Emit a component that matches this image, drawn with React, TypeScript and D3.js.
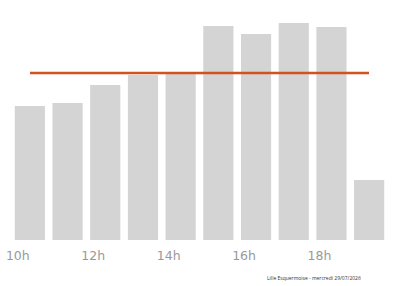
import React from "react";
import * as d3 from "d3";

const hours = [10, 11, 12, 13, 14, 15, 16, 17, 18, 19];
const values = [134, 137, 155, 165, 166, 214, 206, 217, 213, 60];
const average = 167;
const tickHours = [10, 12, 14, 16, 18];
const footer = "Lille Esquermoise - mercredi 29/07/2026";

export default function App() {
  const W = 400, H = 286;
  const x = d3.scaleBand<number>().domain(hours).range([11, 388]).paddingInner(0.2).paddingOuter(0.1);
  const y = d3.scaleLinear().domain([0, 240]).range([240, 0]);
  const lineX = d3.scaleLinear().domain([0, 1]).range([30, 369]);
  return (
    <svg width={W} height={H} style={{ position: "absolute", left: 0, top: 0, background: "#fff" }}>
      {hours.map((h, i) => (
        <rect key={h} x={x(h)} y={y(values[i])} width={x.bandwidth()} height={y(0) - y(values[i])} fill="#d4d4d4" />
      ))}
      <line x1={lineX(0)} x2={lineX(1)} y1={y(average)} y2={y(average)} stroke="#d1521f" strokeWidth={2.5} />
      {tickHours.map((h) => (
        <text key={h} x={(x(h) as number) + x.bandwidth() / 2 - 12} y={260} textAnchor="middle"
          fontFamily="'DejaVu Sans', sans-serif" fontSize={12.5} fill="#999">{h}h</text>
      ))}
      <text x={267} y={280} fontFamily="'Open Sans', sans-serif" fontSize={5} fill="#333">{footer}</text>
    </svg>
  );
}
